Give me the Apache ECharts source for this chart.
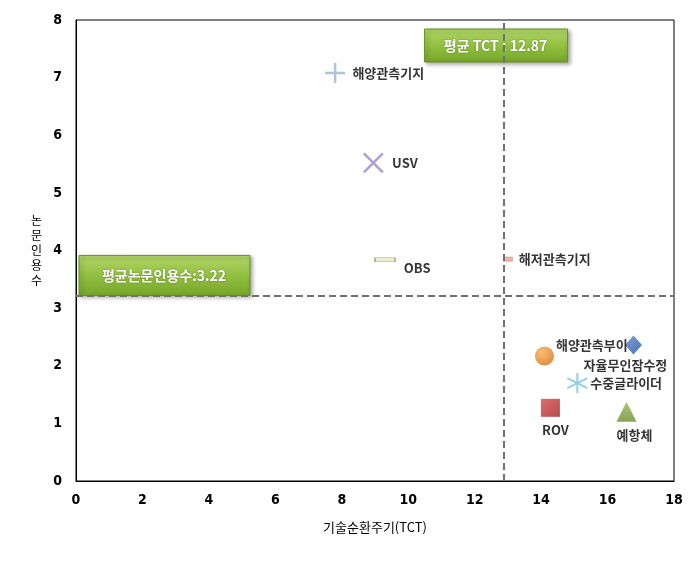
<!DOCTYPE html>
<html><head><meta charset="utf-8">
<script src="https://cdn.jsdelivr.net/npm/echarts@6/dist/echarts.min.js"></script>
<style>html,body{margin:0;padding:0;background:#fff}#c{width:693px;height:579px}</style>
</head><body><div id="c"></div>
<script>
var names = ['해양관측기지','USV','OBS','해저관측기지','해양관측부이','자율무인잠수정','수중글라이더','ROV','예항체'];
var tct = [7.8, 8.95, 9.3, 13.0, 14.1, 16.78, 15.09, 14.28, 16.57];
var cites = [7.08, 5.52, 3.84, 3.85, 2.17, 2.36, 1.70, 1.27, 1.20];
var meanTCT = 12.87;
var meanCite = 3.22;
var xTicks = [0,2,4,6,8,10,12,14,16,18];
var yTicks = [0,1,2,3,4,5,6,7,8];
var xTitle = '기술순환주기(TCT)';
var yTitle = '논문인용수';

var styles = {
  '해양관측기지': {symbol:'path://M0,-10L0,10M-10,0L10,0', size:20, item:{color:'transparent',borderColor:'#9fb4cf',borderWidth:2.5}, label:{position:'right',distance:6}},
  'USV': {symbol:'path://M-10,-10L10,10M-10,10L10,-10', size:19, item:{color:'transparent',borderColor:'#9a88c4',borderWidth:2.5}, label:{position:'right',distance:8}},
  'OBS': {symbol:'rect', size:[20,4], item:{color:'#e9e9c3',borderColor:'#9a9a80',borderWidth:0.8}, label:{position:'right',distance:2,offset:[6,8]}},
  '해저관측기지': {symbol:'rect', size:[9,4], item:{color:'#f0a090',borderColor:'#c07070',borderWidth:0.6}, label:{position:'right',distance:6}},
  '해양관측부이': {symbol:'circle', size:19, item:{color:new echarts.graphic.RadialGradient(0.35,0.3,0.8,[{offset:0,color:'#f7b050'},{offset:1,color:'#d86a10'}])}, label:{position:'right',distance:2,offset:[0,-11]}},
  '자율무인잠수정': {symbol:'diamond', size:[17,19], item:{color:new echarts.graphic.LinearGradient(0,0,1,1,[{offset:0,color:'#5c8ad0'},{offset:1,color:'#1f4c96'}])}, label:{position:'bottom',distance:4,offset:[-8,0]}},
  '수중글라이더': {symbol:'path://M0,-10L0,10M-8.66,-5L8.66,5M-8.66,5L8.66,-5', size:20, item:{color:'transparent',borderColor:'#7cc4dc',borderWidth:2}, label:{position:'right',distance:2}},
  'ROV': {symbol:'rect', size:[19,18], item:{color:new echarts.graphic.LinearGradient(0,0,1,1,[{offset:0,color:'#d84a4a'},{offset:1,color:'#a02020'}])}, label:{position:'bottom',distance:7,offset:[5,0]}},
  '예항체': {symbol:'triangle', size:[20,20], item:{color:new echarts.graphic.LinearGradient(0,0,0,1,[{offset:0,color:'#98b858'},{offset:1,color:'#6a8a2a'}])}, label:{position:'bottom',distance:7,offset:[8,0]}}
};

var labelFont = {fontFamily:'"Noto Sans CJK KR", sans-serif', fontWeight:'bold', fontSize:13, color:'#000'};

var data = names.map(function(n,i){
  var s = styles[n];
  return {
    name:n, value:[tct[i], cites[i]], symbol:s.symbol, symbolSize:s.size,
    itemStyle:s.item,
    label:Object.assign({show:true, formatter:'{b}'}, labelFont, s.label)
  };
});

var chart = echarts.init(document.getElementById('c'));
var axisLabelStyle = {color:'#000', fontFamily:'"DejaVu Sans Condensed", sans-serif', fontWeight:'bold', fontSize:14};
chart.setOption({
  animation:false,
  grid:{left:76, right:19, top:20, bottom:98, show:true, borderColor:'#000', borderWidth:1},
  xAxis:{type:'value', min:xTicks[0], max:xTicks[xTicks.length-1], interval:2,
    name:xTitle, nameLocation:'middle', nameGap:40,
    nameTextStyle:{color:'#000', fontFamily:'"Noto Sans CJK KR", sans-serif', fontSize:13},
    axisLine:{show:true, lineStyle:{color:'#000'}}, axisTick:{show:false}, splitLine:{show:false},
    axisLabel:Object.assign({margin:12}, axisLabelStyle)},
  yAxis:{type:'value', min:yTicks[0], max:yTicks[yTicks.length-1], interval:1,
    name:yTitle.split('').join('\n'), nameLocation:'middle', nameGap:34, nameRotate:0,
    nameTextStyle:{color:'#000', fontFamily:'"Noto Sans CJK KR", sans-serif', fontSize:12, lineHeight:15, align:'right'},
    axisLine:{show:true, lineStyle:{color:'#000'}}, axisTick:{show:false}, splitLine:{show:false},
    axisLabel:Object.assign({margin:14}, axisLabelStyle)},
  series:[{
    type:'scatter', data:data,
    markLine:{silent:true, symbol:'none', label:{show:false},
      lineStyle:{color:'#707070', type:[7,4], width:2},
      data:[{xAxis:meanTCT},{yAxis:meanCite}]}
  }]
});

var p1 = chart.convertToPixel({gridIndex:0}, [meanTCT, 8]);
var p2 = chart.convertToPixel({gridIndex:0}, [0, meanCite]);
var grad = function(){ return new echarts.graphic.LinearGradient(0,0,0,1,[{offset:0,color:'#b2d66a'},{offset:0.5,color:'#92c040'},{offset:1,color:'#76a52a'}]); };
var boxText = {fill:'#fff', fontFamily:'"Noto Sans CJK KR", sans-serif', fontWeight:'bold', fontSize:14, textShadowColor:'rgba(0,0,0,0.35)', textShadowBlur:2};
chart.setOption({graphic:[
  {type:'group', x:p1[0]-79, y:p1[1]+9, children:[
    {type:'rect', shape:{x:0,y:0,width:143,height:33}, style:{fill:grad(), stroke:'#6a9020', lineWidth:1, shadowColor:'rgba(0,0,0,0.35)', shadowBlur:4, shadowOffsetX:2, shadowOffsetY:2}},
    {type:'text', x:71, y:16.5, style:Object.assign({text:'평균 TCT : ' + meanTCT, align:'center', verticalAlign:'middle'}, boxText)}
  ]},
  {type:'group', x:p2[0]+3, y:p2[1]-40, children:[
    {type:'rect', shape:{x:0,y:0,width:171,height:40}, style:{fill:grad(), stroke:'#6a9020', lineWidth:1, shadowColor:'rgba(0,0,0,0.35)', shadowBlur:4, shadowOffsetX:2, shadowOffsetY:2}},
    {type:'text', x:85, y:20, style:Object.assign({text:'평균논문인용수:' + meanCite, align:'center', verticalAlign:'middle'}, boxText)}
  ]}
]});
</script></body></html>
